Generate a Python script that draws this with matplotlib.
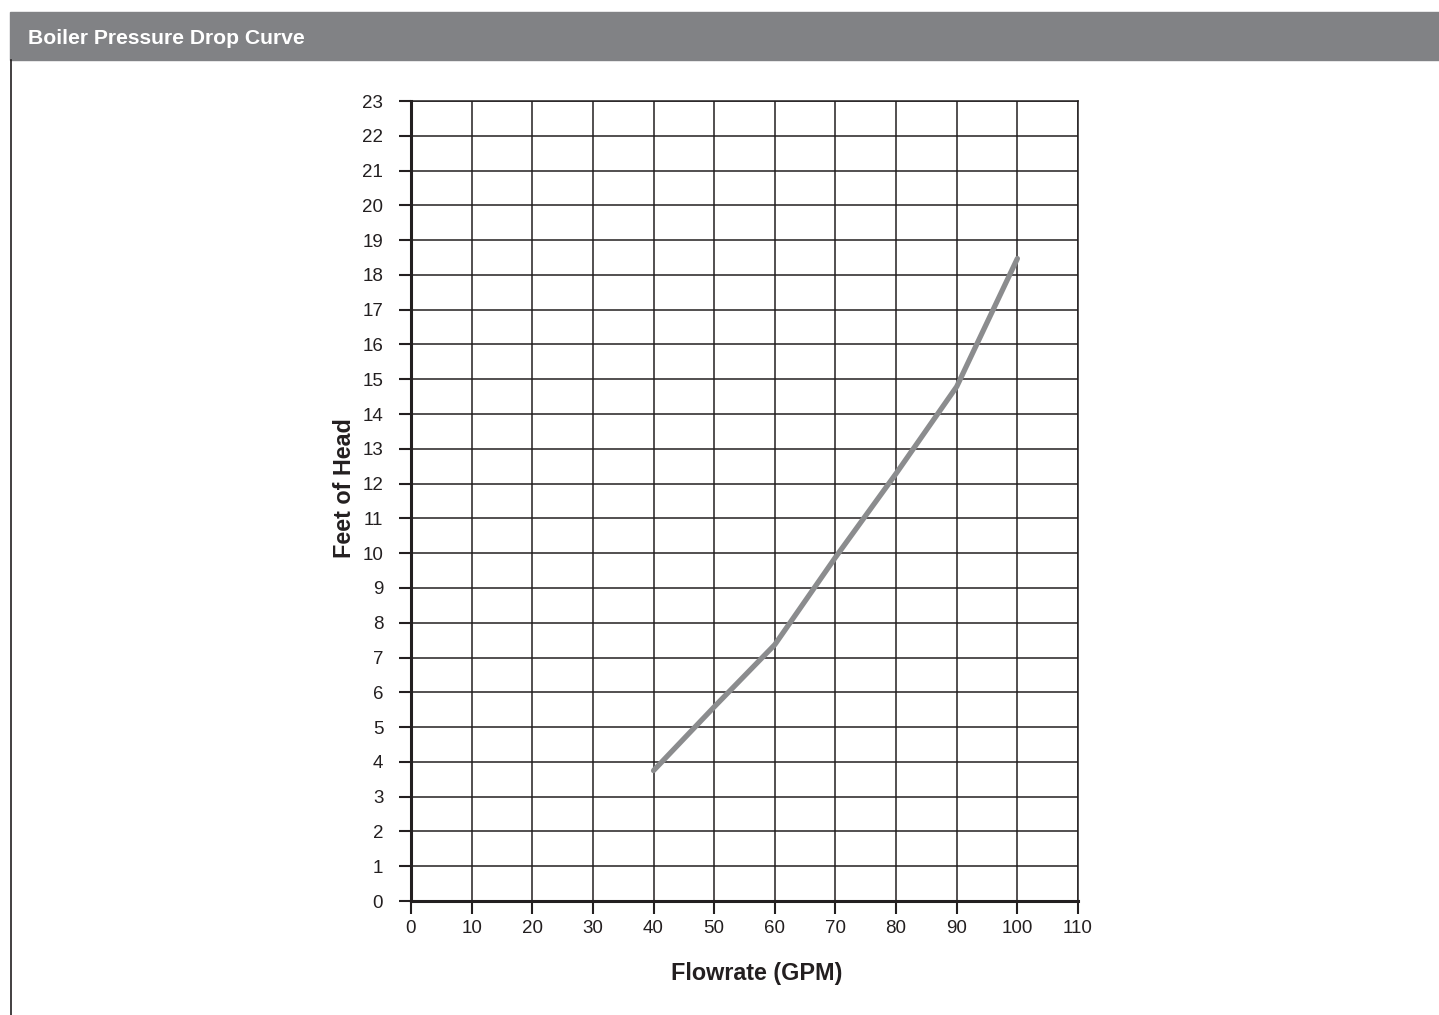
import matplotlib.pyplot as plt
from matplotlib.patches import Rectangle
from matplotlib.lines import Line2D

flow_gpm = [40, 50, 60, 70, 80, 90, 100]
feet_of_head = [3.75, 5.58, 7.37, 9.88, 12.29, 14.79, 18.47]

x_ticks = list(range(0, 111, 10))
y_ticks = list(range(0, 24))

plt.rcParams['font.family'] = ['Liberation Sans', 'DejaVu Sans']

fig = plt.figure(figsize=(14.39, 10.15), dpi=100)

# header bar and left border
fig.patches.append(Rectangle((10 / 1439, 1 - 60 / 1015), 1 - 10 / 1439, 48 / 1015,
                             transform=fig.transFigure, color='#818285', zorder=0))
fig.lines.append(Line2D([10.5 / 1439, 10.5 / 1439], [0, 1 - 60 / 1015],
                        transform=fig.transFigure, color='#231f20', lw=1.2))
fig.text(28 / 1439, 1 - 39 / 1015, 'Boiler Pressure Drop Curve', color='white',
         fontsize=15.2, fontweight='bold', va='center', ha='left')

ax = fig.add_axes([411 / 1439, 114 / 1015, 667 / 1439, 800 / 1015])
ax.plot(flow_gpm, feet_of_head, color='#8b8c8e', lw=3.8, solid_capstyle='round', zorder=3)

ax.set_xlim(0, 110)
ax.set_ylim(0, 23)
ax.set_xticks(x_ticks)
ax.set_yticks(y_ticks)
ax.grid(True, color='#231f20', lw=1.1)
ax.set_axisbelow(True)

for side in ['top', 'right']:
    ax.spines[side].set_color('#231f20')
    ax.spines[side].set_linewidth(1.1)
for side in ['left', 'bottom']:
    ax.spines[side].set_color('#231f20')
    ax.spines[side].set_linewidth(2.2)

ax.tick_params(axis='both', direction='out', length=9, width=1.5, color='#231f20',
               labelsize=13.5, labelcolor='#231f20')
ax.tick_params(axis='y', pad=11)
ax.tick_params(axis='x', pad=5)

ax.set_xlabel('Flowrate (GPM)', fontsize=16.8, fontweight='bold', color='#231f20')
ax.set_ylabel('Feet of Head', fontsize=16.8, fontweight='bold', color='#231f20')
ax.xaxis.set_label_coords(0.519, -0.076)
ax.yaxis.set_label_coords(-0.0825, 0.516)

plt.savefig('out.png', dpi=100, facecolor='white')
